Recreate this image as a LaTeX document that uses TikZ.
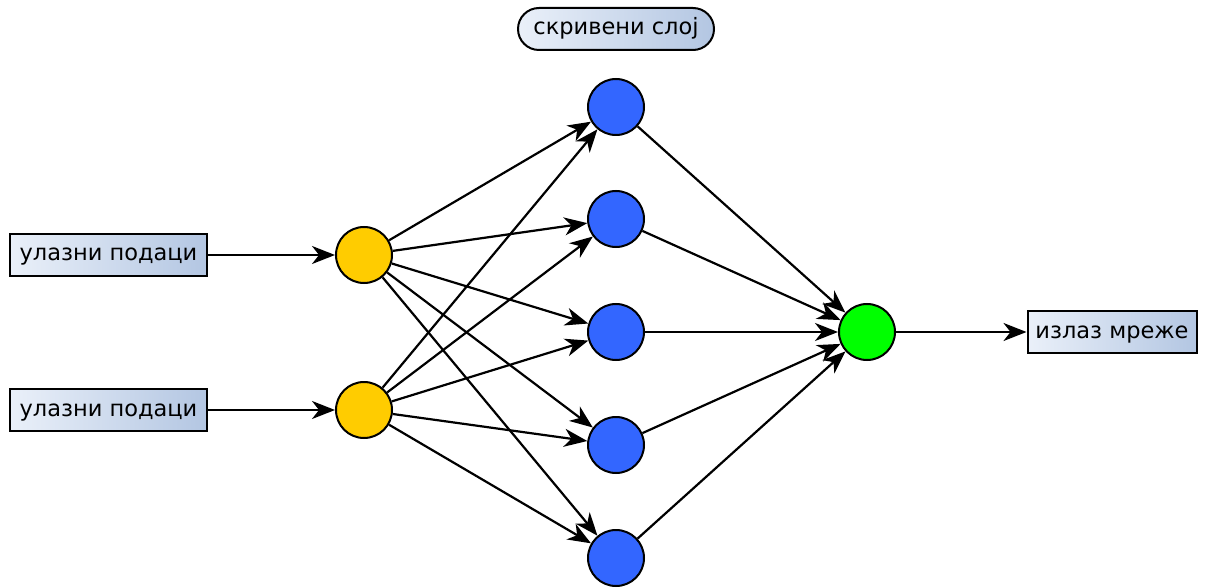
\documentclass[tikz,border=0pt]{standalone}
\usepackage{fontspec}
\setmainfont{DejaVu Sans}
\usetikzlibrary{arrows.meta,shapes.misc}
\definecolor{boxL}{HTML}{EAF0F9}
\definecolor{boxR}{HTML}{B3C6E2}
\definecolor{hid}{HTML}{3366FF}
\definecolor{inp}{HTML}{FFCC00}
\definecolor{outc}{HTML}{00FF00}
\tikzset{
  lbl/.style={draw=black,line width=2pt,left color=boxL,right color=boxR,font=\fontsize{22.5}{26}\selectfont,inner sep=0pt,text height=16pt,text depth=4pt},
  neuron/.style={circle,draw=black,line width=2pt,minimum size=56pt,inner sep=0pt},
  conn/.style={line width=2.2pt,-{Stealth[length=23pt,width=18pt,inset=7pt]}}
}
\begin{document}
\begin{tikzpicture}[x=1pt,y=-1pt]
\useasboundingbox (0,0) rectangle (1229,588);
\node[lbl,minimum width=197pt,minimum height=42pt] (in1) at (108.5,255) {улазни подаци};
\node[lbl,minimum width=197pt,minimum height=42pt] (in2) at (108.5,410) {улазни подаци};
\node[lbl,minimum width=169pt,minimum height=42pt] (out) at (1112,332) {излаз мреже};
\node[lbl,rounded rectangle,minimum width=196pt,minimum height=42pt] (title) at (616,29) {скривени слој};
\node[neuron,fill=inp] (y1) at (364,255) {};
\node[neuron,fill=inp] (y2) at (364,410) {};
\node[neuron,fill=hid] (h1) at (616,107) {};
\node[neuron,fill=hid] (h2) at (616,219) {};
\node[neuron,fill=hid] (h3) at (616,332) {};
\node[neuron,fill=hid] (h4) at (616,445) {};
\node[neuron,fill=hid] (h5) at (616,558) {};
\node[neuron,fill=outc] (g) at (867,332) {};
\draw[conn] (in1) -- (y1);
\draw[conn] (in2) -- (y2);
\foreach \a in {y1,y2}{
  \foreach \b in {h1,h2,h3,h4,h5}{
    \draw[conn] (\a) -- (\b);
  }
}
\foreach \b in {h1,h2,h3,h4,h5}{
  \draw[conn] (\b) -- (g);
}
\draw[conn] (g) -- (out);
\end{tikzpicture}
\end{document}
